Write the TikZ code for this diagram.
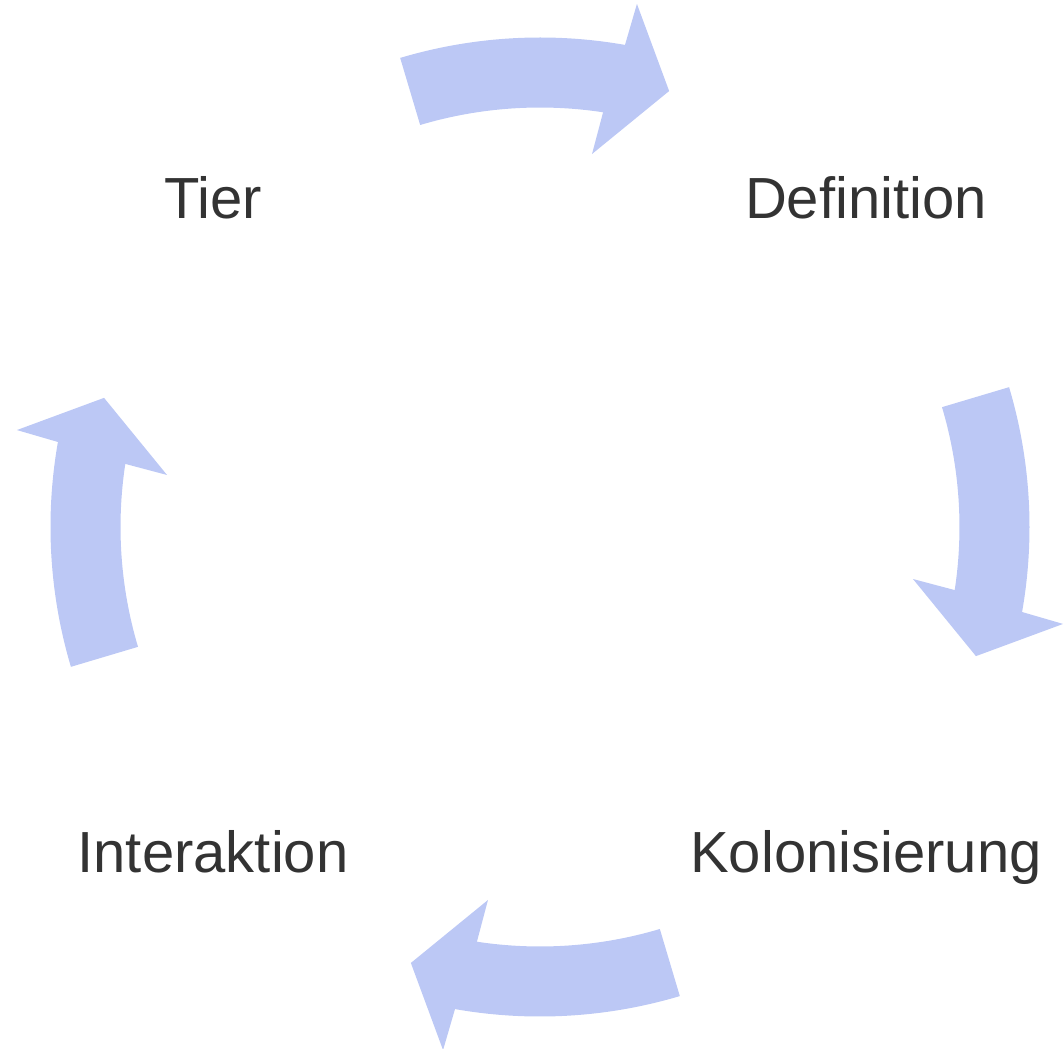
\documentclass[tikz,border=0pt]{standalone}
\usepackage{fontspec}
\setmainfont{Liberation Sans}
\definecolor{arrowblue}{RGB}{188,200,245}
\definecolor{labelgray}{RGB}{51,51,51}
\tikzset{
  arrowfill/.style={fill=arrowblue},
  lbl/.style={text=labelgray, inner sep=0pt, anchor=base,
    font=\fontsize{58}{70}\selectfont}
}
% one curved cycle arrow, drawn for the top position and rotated by #1
\newcommand{\cyclearrow}[1]{%
  \fill[arrowfill, rotate=#1]
    (106.6:489.5pt) arc[start angle=106.6, end angle=80.0, radius=489.5pt]
    -- (79.5:532pt) -- (73.5:454.7pt) -- (82.06:376.6pt) -- (81.35:419.5pt)
    arc[start angle=81.35, end angle=106.6, radius=419.5pt] -- cycle;%
}
\begin{document}
\begin{tikzpicture}[x=1pt, y=1pt]
  \useasboundingbox (-540,-521) rectangle (524,527);
  \cyclearrow{0}
  \cyclearrow{-90}
  \cyclearrow{-180}
  \cyclearrow{-270}
  \node[lbl] (tier) at (-327,308) {Tier};
  \node[lbl] (definition) at (326,308) {Definition};
  \node[lbl] (kolonisierung) at (326,-345) {Kolonisierung};
  \node[lbl] (interaktion) at (-327,-345) {Interaktion};
\end{tikzpicture}
\end{document}
